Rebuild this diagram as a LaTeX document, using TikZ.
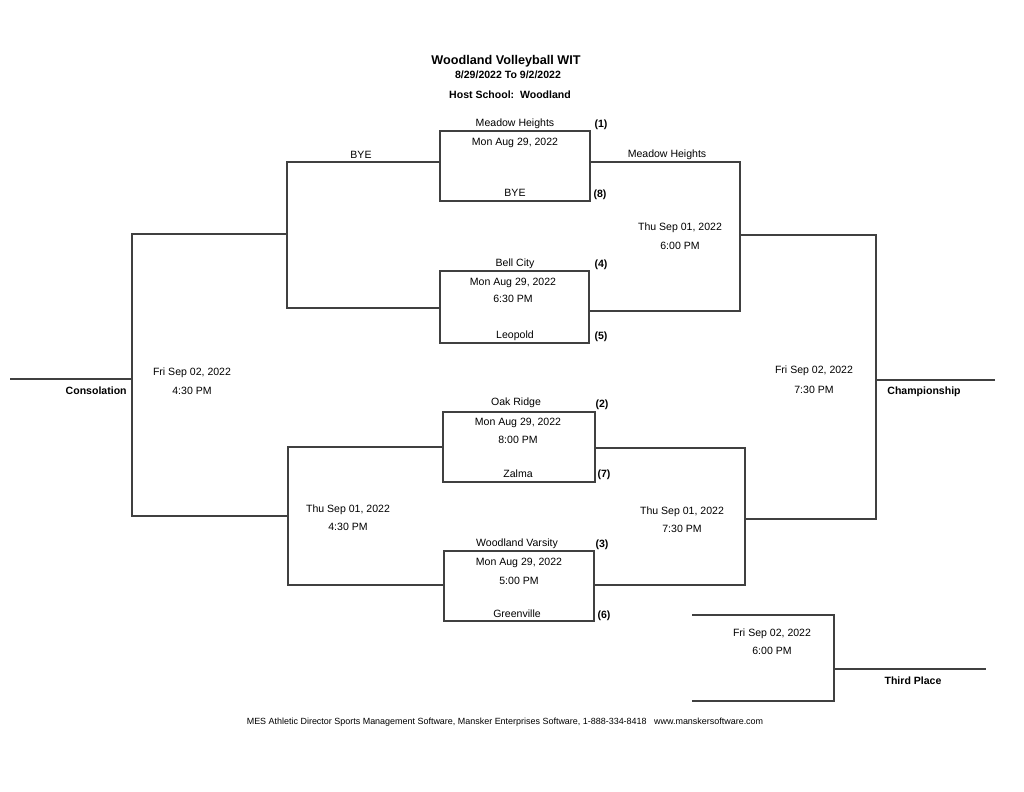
\documentclass[tikz,border=0pt]{standalone}
\usepackage{fontspec}
\setmainfont{Liberation Sans}
\usepackage{xcolor}
\usepackage{tikz}
\usetikzlibrary{positioning, calc}

\begin{document}
\begin{tikzpicture}[x=0.02cm, y=-0.02cm, font=\fontsize{6}{7}\selectfont,
  lbl/.style={inner sep=0pt, yshift=-1pt},
  seed/.style={inner sep=0pt, yshift=-1pt, font=\fontsize{6}{7}\selectfont\bfseries},
  rnd/.style={inner sep=0pt, yshift=-1pt, font=\fontsize{6}{7}\selectfont\bfseries},
  game/.style={draw=lnGray, line width=0.75pt, inner sep=0pt, minimum height=1.4cm},
  wire/.style={draw=lnGray, line width=0.75pt}]
\definecolor{lnGray}{HTML}{404040}
\useasboundingbox[fill=white] (0,0) rectangle (1024,791);
\node[lbl, font=\fontsize{7.2}{8}\selectfont\bfseries] (ttl) at (506,59) {Woodland Volleyball WIT};
\node[lbl, font=\fontsize{6}{7}\selectfont\bfseries] (dts) at (508,73) {8/29/2022 To 9/2/2022};
\node[lbl, font=\fontsize{6}{7}\selectfont\bfseries] (hst) at (510,93) {Host School:\ \ Woodland};
\node[game, minimum width=3cm] (gA) at (515,166) {};
\node[game, minimum width=2.98cm, minimum height=1.44cm] (gB) at (514.5,307) {};
\node[game, minimum width=3.04cm] (gC) at (519,447) {};
\node[game, minimum width=3cm] (gD) at (519,586) {};
\coordinate (qfL1) at (287,162);  \coordinate (qfL2) at (287,308);  \coordinate (sfL1) at (132,234);
\coordinate (qfR1) at (740,162);  \coordinate (qfR2) at (740,311);  \coordinate (sfR1) at (876,235);
\coordinate (qfL3) at (288,447);  \coordinate (qfL4) at (288,585);  \coordinate (sfL2) at (132,516);
\coordinate (qfR3) at (745,448);  \coordinate (qfR4) at (745,585);  \coordinate (sfR2) at (876,519);
\coordinate (cons) at (10,379);   \coordinate (champ) at (995,380);
\coordinate (tpT) at (692,615);   \coordinate (tpB) at (692,701);   \coordinate (tp) at (834,669);
\coordinate (third) at (986,669);
\draw[wire] (gA.west |- qfL1) -- (qfL1) -- (qfL2) -- (gB.west |- qfL2);
\draw[wire] (gA.east |- qfR1) -- (qfR1) -- (qfR2) -- (gB.east |- qfR2);
\draw[wire] (gC.west |- qfL3) -- (qfL3) -- (qfL4) -- (gD.west |- qfL4);
\draw[wire] (gC.east |- qfR3) -- (qfR3) -- (qfR4) -- (gD.east |- qfR4);
\draw[wire] (qfL1 |- sfL1) -- (sfL1) -- (sfL2) -- (qfL3 |- sfL2);
\draw[wire] (qfR1 |- sfR1) -- (sfR1) -- (sfR2) -- (qfR3 |- sfR2);
\draw[wire] (cons) -- (cons -| sfL1);
\draw[wire] (champ) -- (champ -| sfR1);
\draw[wire] (tpT) -- (tpT -| tp) -- (tpB -| tp) -- (tpB);
\draw[wire] (tp) -- (third);
\node[lbl] (tmA1) at (515,122) {Meadow Heights};  \node[seed] (sdA1) at (601,123) {(1)};
\node[lbl] (dtA) at (515,141) {Mon Aug 29, 2022};
\node[lbl] (tmA2) at (515,191) {BYE};             \node[seed] (sdA2) at (600,193) {(8)};
\node[lbl] (tmB1) at (515,262) {Bell City};       \node[seed] (sdB1) at (601,263) {(4)};
\node[lbl] (dtB) at (513,281) {Mon Aug 29, 2022};
\node[lbl] (tmB0) at (513,297) {6:30 PM};
\node[lbl] (tmB2) at (515,334) {Leopold};         \node[seed] (sdB2) at (601,335) {(5)};
\node[lbl] (tmC1) at (516,401) {Oak Ridge};       \node[seed] (sdC1) at (602,403) {(2)};
\node[lbl] (dtC) at (518,421) {Mon Aug 29, 2022};
\node[lbl] (tmC0) at (518,438) {8:00 PM};
\node[lbl] (tmC2) at (518,472) {Zalma};           \node[seed] (sdC2) at (604,473) {(7)};
\node[lbl] (tmD1) at (517,542) {Woodland Varsity};\node[seed] (sdD1) at (602,543) {(3)};
\node[lbl] (dtD) at (519,561) {Mon Aug 29, 2022};
\node[lbl] (tmD0) at (519,579) {5:00 PM};
\node[lbl] (tmD2) at (517,612) {Greenville};      \node[seed] (sdD2) at (604,614) {(6)};
\node[lbl] (wL1) at (361,153) {BYE};
\node[lbl] (wR1) at (667,153) {Meadow Heights};
\node[lbl] (dR1) at (680,226) {Thu Sep 01, 2022};  \node[lbl] (hR1) at (680,244) {6:00 PM};
\node[lbl] (dL2) at (348,508) {Thu Sep 01, 2022};  \node[lbl] (hL2) at (348,525) {4:30 PM};
\node[lbl] (dR2) at (682,510) {Thu Sep 01, 2022};  \node[lbl] (hR2) at (682,527) {7:30 PM};
\node[lbl] (dCo) at (192,371) {Fri Sep 02, 2022};  \node[lbl] (hCo) at (192,389) {4:30 PM};
\node[lbl] (dCh) at (814,369) {Fri Sep 02, 2022};  \node[lbl] (hCh) at (814,388) {7:30 PM};
\node[lbl] (dTp) at (772,632) {Fri Sep 02, 2022};  \node[lbl] (hTp) at (772,649) {6:00 PM};
\node[rnd, anchor=east] (lbCons) at (127,389) {Consolation};
\node[rnd] (lbChamp) at (924,390) {Championship};
\node[rnd] (lbThird) at (913,679) {Third Place};
\node[lbl, font=\fontsize{5.1}{6}\selectfont] (ftr) at (505,720) {MES Athletic Director Sports Management Software, Mansker Enterprises Software, 1-888-334-8418\ \ \ www.manskersoftware.com};
\end{tikzpicture}
\end{document}
